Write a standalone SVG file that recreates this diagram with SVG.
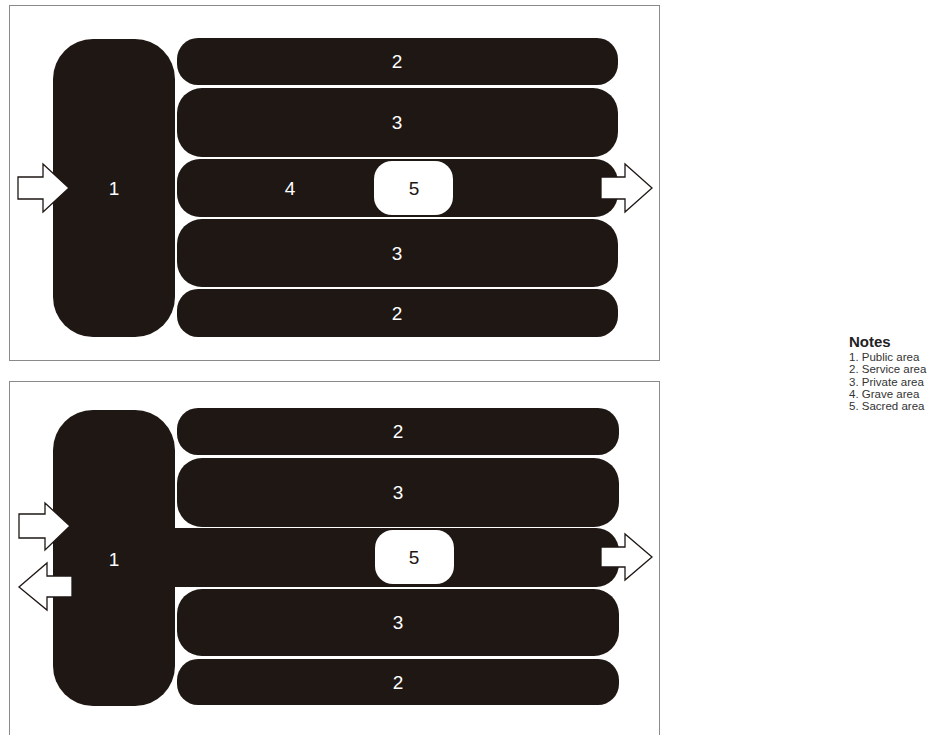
<svg xmlns="http://www.w3.org/2000/svg" width="932" height="735" viewBox="0 0 932 735">
<style>
.frame{fill:#fff;stroke:#8a8a8a;stroke-width:1}
.blk{fill:#1e1714}
.box{fill:#fff}
.arr{fill:#fff;stroke:#1e1714;stroke-width:1.3;stroke-linejoin:miter}
.lbl{font-family:"Liberation Sans",Arial,sans-serif;font-size:19px;fill:#fff;text-anchor:middle}
.lbl5{font-family:"Liberation Sans",Arial,sans-serif;font-size:19px;fill:#1e1714;text-anchor:middle}
.nt{font-family:"Liberation Sans",Arial,sans-serif;font-size:11.5px;fill:#333}
.nh{font-family:"Liberation Sans",Arial,sans-serif;font-size:15px;font-weight:bold;fill:#222}
</style>
<rect width="932" height="735" fill="#fff"/>
<g id="panel-top">
<rect class="frame" x="9.5" y="5.5" width="650" height="355"/>
<g id="t-n1"><rect class="blk" x="53" y="39" width="122" height="298" rx="40"/><text class="lbl" x="114" y="195">1</text></g>
<g id="t-n2a"><rect class="blk" x="177" y="38" width="441" height="47" rx="21"/><text class="lbl" x="397" y="68">2</text></g>
<g id="t-n3a"><rect class="blk" x="177" y="88" width="441" height="69" rx="25"/><text class="lbl" x="397" y="129">3</text></g>
<g id="t-n4"><rect class="blk" x="177" y="159" width="441" height="58" rx="23"/><text class="lbl" x="290" y="195">4</text></g>
<g id="t-n5"><rect class="box" x="374" y="161" width="79" height="54" rx="18"/><text class="lbl5" x="414" y="195">5</text></g>
<g id="t-n3b"><rect class="blk" x="177" y="219" width="441" height="68" rx="25"/><text class="lbl" x="397" y="260">3</text></g>
<g id="t-n2b"><rect class="blk" x="177" y="289" width="441" height="48" rx="21"/><text class="lbl" x="397" y="320">2</text></g>
</g>
<g id="panel-bottom">
<rect class="frame" x="9.5" y="381.5" width="650" height="360"/>
<g id="b-n1"><rect class="blk" x="53" y="410" width="122" height="296" rx="40"/><text class="lbl" x="114" y="566">1</text></g>
<g id="b-n2a"><rect class="blk" x="177" y="408" width="442" height="47" rx="21"/><text class="lbl" x="398" y="438">2</text></g>
<g id="b-n3a"><rect class="blk" x="177" y="458" width="442" height="69" rx="25"/><text class="lbl" x="398" y="499">3</text></g>
<g id="b-band"><path class="blk" d="M160 528 H596 A23 23 0 0 1 619 551 V564 A23 23 0 0 1 596 587 H160 Z"/></g>
<g id="b-n5"><rect class="box" x="375" y="530" width="79" height="54" rx="18"/><text class="lbl5" x="414" y="564">5</text></g>
<g id="b-n3b"><rect class="blk" x="177" y="589" width="442" height="67" rx="25"/><text class="lbl" x="398" y="629">3</text></g>
<g id="b-n2b"><rect class="blk" x="177" y="659" width="442" height="46" rx="21"/><text class="lbl" x="398" y="689">2</text></g>
</g>
<g id="connectors">
<polygon class="arr" points="18,177 43,177 43,164 69,188 43,212 43,199 18,199"/>
<polygon class="arr" points="601,177 625,177 625,164 652,188 625,212 625,199 601,199"/>
<polygon class="arr" points="19,514 45,514 45,503 70,526 45,550 45,538 19,538"/>
<polygon class="arr" points="72,576 47,576 47,563 19,587 47,610 47,597 72,597"/>
<polygon class="arr" points="601,547 625,547 625,534 652,557 625,580 625,567 601,567"/>
</g>
<g id="notes">
<text class="nh" x="849" y="347">Notes</text>
<text class="nt" x="849" y="361">1. Public area</text>
<text class="nt" x="849" y="373.3">2. Service area</text>
<text class="nt" x="849" y="385.6">3. Private area</text>
<text class="nt" x="849" y="397.9">4. Grave area</text>
<text class="nt" x="849" y="410.2">5. Sacred area</text>
</g>
</svg>
